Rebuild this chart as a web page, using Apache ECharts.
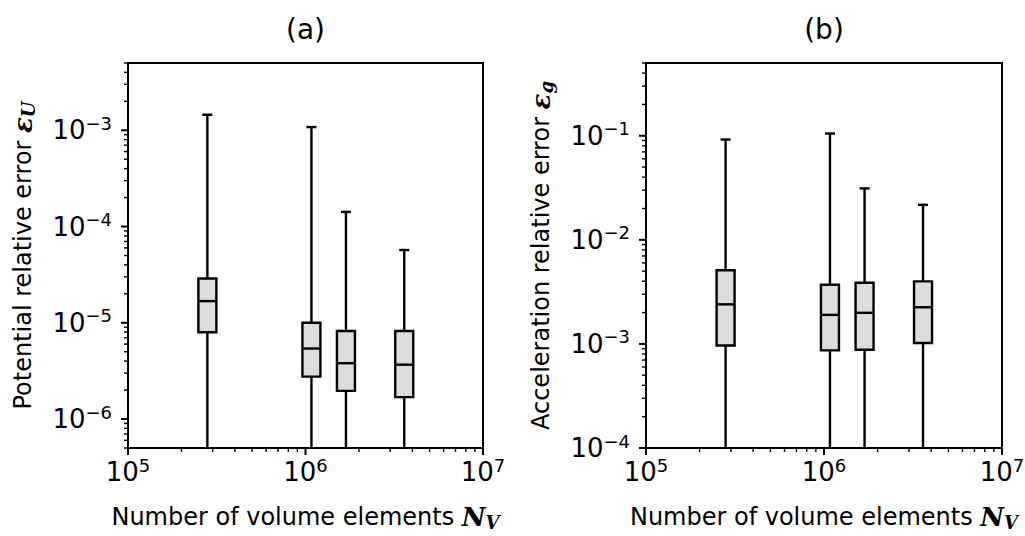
<!DOCTYPE html>
<html>
<head>
<meta charset="utf-8">
<script src="https://cdn.jsdelivr.net/npm/echarts@6/dist/echarts.min.js"></script>
<style>
  html, body { margin: 0; padding: 0; background: #fff; }
  #chart { width: 1025px; height: 536px; }
</style>
</head>
<body>
<div id="chart"></div>
<script>
// Number of volume elements of the four meshes
const volumeElements = [2.8e5, 1.08e6, 1.69e6, 3.6e6];

// (a) potential relative error: lower whisker, Q1, median, Q3, upper whisker
const potLow    = [1e-7, 1e-7, 1e-7, 1e-7];
const potQ1     = [7.97e-6, 2.76e-6, 1.96e-6, 1.69e-6];
const potMedian = [1.68e-5, 5.4e-6, 3.8e-6, 3.67e-6];
const potQ3     = [2.88e-5, 1.0e-5, 8.2e-6, 8.2e-6];
const potHigh   = [1.45e-3, 1.08e-3, 1.42e-4, 5.7e-5];

// (b) acceleration relative error
const accLow    = [3e-5, 3e-5, 3e-5, 3e-5];
const accQ1     = [9.65e-4, 8.67e-4, 8.8e-4, 1.02e-3];
const accMedian = [2.4e-3, 1.9e-3, 1.99e-3, 2.25e-3];
const accQ3     = [5.1e-3, 3.7e-3, 3.87e-3, 3.99e-3];
const accHigh   = [0.092, 0.105, 0.0312, 0.0217];

// Axis ranges and labelled decades
const xRange   = [1e5, 1e7];
const xTicks   = [1e5, 1e6, 1e7];
const potRange = [5e-7, 5e-3];
const potTicks = [1e-6, 1e-5, 1e-4, 1e-3];
const accRange = [1e-4, 0.5];
const accTicks = [1e-4, 1e-3, 1e-2, 1e-1];

const FONT = '"DejaVu Sans", Verdana, sans-serif';
const SERIF = '"DejaVu Serif", "Liberation Serif", serif';
const BOX_W = 18, CAP_W = 10, LINE_W = 2.4;
const MAJOR_LEN = 7, MINOR_LEN = 4;

const panels = [
  { left: 128, top: 63, width: 355, height: 385 },
  { left: 646, top: 63, width: 356, height: 385 }
];

function boxRows(low, q1, med, q3, high) {
  return volumeElements.map((n, i) => [n, low[i], q1[i], med[i], q3[i], high[i]]);
}

// 2..9 x 10^k positions inside a log range
function minorTicks(range) {
  const out = [];
  const lo = Math.floor(Math.log10(range[0]));
  const hi = Math.ceil(Math.log10(range[1]));
  for (let e = lo; e < hi; e++) {
    for (let m = 2; m <= 9; m++) {
      const v = m * Math.pow(10, e);
      if (v >= range[0] * 0.999 && v <= range[1] * 1.001) out.push(v);
    }
  }
  return out;
}

// kind: 0 x major, 1 x minor, 2 y major, 3 y minor
function tickRows(yRange, yTicks) {
  const rows = [];
  xTicks.forEach(v => rows.push([v, yRange[0], 0]));
  minorTicks(xRange).forEach(v => rows.push([v, yRange[0], 1]));
  yTicks.forEach(v => rows.push([xRange[0], v, 2]));
  minorTicks(yRange).forEach(v => rows.push([xRange[0], v, 3]));
  return rows;
}

function renderTick(params, api) {
  const p = api.coord([api.value(0), api.value(1)]);
  const kind = api.value(2);
  const len = kind % 2 === 0 ? MAJOR_LEN : MINOR_LEN;
  const shape = kind < 2
    ? { x1: p[0], y1: p[1], x2: p[0], y2: p[1] + len }
    : { x1: p[0] - len, y1: p[1], x2: p[0], y2: p[1] };
  return {
    type: 'line', shape,
    style: { stroke: '#000', lineWidth: kind % 2 === 0 ? 2 : 1.4 }
  };
}

function renderBox(params, api) {
  const n = api.value(0);
  const lo = api.coord([n, api.value(1)]);
  const q1 = api.coord([n, api.value(2)]);
  const md = api.coord([n, api.value(3)]);
  const q3 = api.coord([n, api.value(4)]);
  const hi = api.coord([n, api.value(5)]);
  const cx = q1[0], h = BOX_W / 2, c = CAP_W / 2;
  const ls = { stroke: '#000', lineWidth: LINE_W };
  return {
    type: 'group',
    children: [
      { type: 'line', shape: { x1: cx, y1: hi[1], x2: cx, y2: q3[1] }, style: ls },
      { type: 'line', shape: { x1: cx - c, y1: hi[1], x2: cx + c, y2: hi[1] }, style: ls },
      { type: 'line', shape: { x1: cx, y1: q1[1], x2: cx, y2: lo[1] }, style: ls },
      { type: 'line', shape: { x1: cx - c, y1: lo[1], x2: cx + c, y2: lo[1] }, style: ls },
      { type: 'rect', shape: { x: cx - h, y: q3[1], width: BOX_W, height: q1[1] - q3[1] },
        style: { fill: '#dcdcdc', stroke: '#000', lineWidth: LINE_W } },
      { type: 'line', shape: { x1: cx - h, y1: md[1], x2: cx + h, y2: md[1] }, style: ls }
    ]
  };
}

function isTick(v, ticks) {
  return ticks.some(t => Math.abs(Math.log10(v) - Math.log10(t)) < 1e-6);
}
function powLabel(v) {
  const e = Math.round(Math.log10(v));
  return '{b|10}{s|' + (e < 0 ? '\u2212' + (-e) : String(e)) + '}';
}
const tickRich = {
  b: { fontSize: 26, fontFamily: FONT, color: '#000' },
  s: { fontSize: 18, fontFamily: FONT, color: '#000', padding: [0, 0, 14, 0] }
};
const nameRich = {
  t: { fontSize: 24, fontFamily: FONT, color: '#000' },
  e: { fontSize: 26, fontFamily: SERIF, fontStyle: 'italic', fontWeight: 'bold', color: '#000' },
  n: { fontSize: 26, fontFamily: SERIF, fontStyle: 'italic', fontWeight: 'bold', color: '#000' },
  u: { fontSize: 18, fontFamily: SERIF, fontStyle: 'italic', fontWeight: 'bold', color: '#000', padding: [10, 0, 0, 0] }
};

function xAxis(gi) {
  return {
    gridIndex: gi, type: 'log', logBase: 10, min: xRange[0], max: xRange[1], splitNumber: 2,
    axisLine: { show: false }, axisTick: { show: false }, splitLine: { show: false },
    axisLabel: {
      margin: 8, formatter: v => isTick(v, xTicks) ? powLabel(v) : '', rich: tickRich
    },
    name: '{t|Number of volume elements }{n|N}{u|V}',
    nameLocation: 'middle', nameGap: 55,
    nameTextStyle: { rich: nameRich }
  };
}
function yAxis(gi, range, ticks, name) {
  return {
    gridIndex: gi, type: 'log', logBase: 10, min: range[0], max: range[1], splitNumber: 4,
    axisLine: { show: false }, axisTick: { show: false }, splitLine: { show: false },
    axisLabel: {
      margin: 16, formatter: v => isTick(v, ticks) ? powLabel(v) : '', rich: tickRich
    },
    name, nameLocation: 'middle', nameGap: 91,
    nameTextStyle: { rich: nameRich }
  };
}

const titleStyle = { fontSize: 28, fontWeight: 'normal', fontFamily: FONT, color: '#000' };

const option = {
  animation: false,
  backgroundColor: '#fff',
  title: panels.map((p, i) => ({
    text: i === 0 ? '(a)' : '(b)', left: p.left + p.width / 2, top: 15,
    textAlign: 'center', padding: 0, textStyle: titleStyle
  })),
  grid: panels.map(p => ({
    left: p.left, top: p.top, width: p.width, height: p.height,
    show: true, borderColor: '#000', borderWidth: 2, backgroundColor: 'transparent',
    containLabel: false, outerBoundsMode: 'none'
  })),
  xAxis: [xAxis(0), xAxis(1)],
  yAxis: [
    yAxis(0, potRange, potTicks, '{t|Potential relative error }{e|\u03b5}{u|U}'),
    yAxis(1, accRange, accTicks, '{t|Acceleration relative error }{e|\u03b5}{u|g}')
  ],
  series: [
    { type: 'custom', xAxisIndex: 0, yAxisIndex: 0, clip: true, silent: true,
      encode: { x: 0, y: [1, 2, 3, 4, 5] },
      data: boxRows(potLow, potQ1, potMedian, potQ3, potHigh), renderItem: renderBox },
    { type: 'custom', xAxisIndex: 1, yAxisIndex: 1, clip: true, silent: true,
      encode: { x: 0, y: [1, 2, 3, 4, 5] },
      data: boxRows(accLow, accQ1, accMedian, accQ3, accHigh), renderItem: renderBox },
    { type: 'custom', xAxisIndex: 0, yAxisIndex: 0, clip: false, silent: true,
      encode: { x: 0, y: 1 }, data: tickRows(potRange, potTicks), renderItem: renderTick },
    { type: 'custom', xAxisIndex: 1, yAxisIndex: 1, clip: false, silent: true,
      encode: { x: 0, y: 1 }, data: tickRows(accRange, accTicks), renderItem: renderTick }
  ]
};

const chart = echarts.init(document.getElementById('chart'), null, { renderer: 'svg' });
chart.setOption(option);
</script>
</body>
</html>
